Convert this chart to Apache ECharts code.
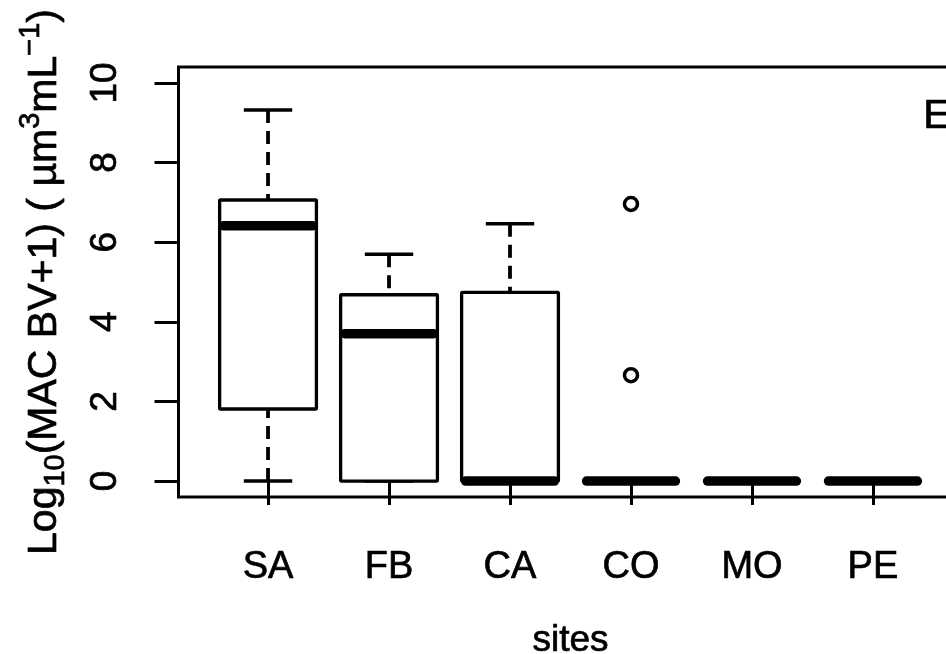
<!DOCTYPE html>
<html>
<head>
<meta charset="utf-8">
<script src="https://cdn.jsdelivr.net/npm/echarts@6/dist/echarts.min.js"></script>
<style>
html,body{margin:0;padding:0;background:#fff;}
#main{width:946px;height:654px;}
</style>
</head>
<body>
<div id="main"></div>
<script>
// ---- data ----
var sites = ['SA', 'FB', 'CA', 'CO', 'MO', 'PE'];
var lowerWhisker = [0, 0, 0, 0, 0, 0];
var q1 = [1.81, 0, 0, 0, 0, 0];
var median = [6.41, 3.70, 0, 0, 0, 0];
var q3 = [7.06, 4.68, 4.74, 0, 0, 0];
var upperWhisker = [9.32, 5.70, 6.46, 0, 0, 0];
var outlierSite = ['CO', 'CO'];
var outlierValue = [6.96, 2.66];
var yTicks = [0, 2, 4, 6, 8, 10];
var panelLabel = 'E';

var FONT = '"Liberation Sans", Arial, Helvetica, sans-serif';
var TB = 0.7; // slight text thickening to match the heavier reference glyphs

var boxData = sites.map(function (s, i) {
  return [i + 1, lowerWhisker[i], q1[i], median[i], q3[i], upperWhisker[i]];
});
var outData = outlierSite.map(function (s, i) {
  return [sites.indexOf(s) + 1, outlierValue[i]];
});

function renderBox(params, api) {
  var x = api.value(0);
  var lw = api.value(1), a = api.value(2), m = api.value(3), b = api.value(4), uw = api.value(5);
  var halfW = api.size([0.8, 0])[0] / 2;
  var capHalf = halfW / 2;
  var c = api.coord([x, 0])[0];
  var yA = api.coord([x, a])[1], yB = api.coord([x, b])[1], yM = api.coord([x, m])[1];
  var yLW = api.coord([x, lw])[1], yUW = api.coord([x, uw])[1];
  var children = [];
  var dash = [13, 8];
  if (uw > b) {
    children.push({ type: 'line', shape: { x1: c, y1: yUW, x2: c, y2: yB },
      style: { stroke: '#000', lineWidth: 3.8, lineDash: dash } });
  }
  if (lw < a) {
    children.push({ type: 'line', shape: { x1: c, y1: yLW, x2: c, y2: yA },
      style: { stroke: '#000', lineWidth: 3.8, lineDash: dash } });
  }
  children.push({ type: 'line', shape: { x1: c - capHalf, y1: yUW, x2: c + capHalf, y2: yUW },
    style: { stroke: '#000', lineWidth: 3.5 } });
  children.push({ type: 'line', shape: { x1: c - capHalf, y1: yLW, x2: c + capHalf, y2: yLW },
    style: { stroke: '#000', lineWidth: 3.5 } });
  children.push({ type: 'rect', shape: { x: c - halfW, y: yB, width: 2 * halfW, height: yA - yB, r: 1 },
    style: { fill: '#fff', stroke: '#000', lineWidth: 3.3 } });
  children.push({ type: 'line', shape: { x1: c - halfW + 4, y1: yM, x2: c + halfW - 4, y2: yM },
    style: { stroke: '#000', lineWidth: 9.5, lineCap: 'round' } });
  return { type: 'group', children: children };
}

var chart = echarts.init(document.getElementById('main'), null, { renderer: 'canvas' });
chart.setOption({
  animation: false,
  backgroundColor: '#fff',
  textStyle: { fontFamily: FONT },
  grid: {
    left: 178.5, top: 67, width: 784, height: 430,
    outerBoundsMode: 'none', containLabel: false,
    show: true, borderColor: '#000', borderWidth: 3, backgroundColor: 'transparent'
  },
  xAxis: {
    type: 'value', min: 0.26, max: 6.74,
    splitLine: { show: false },
    axisLine: { show: false },
    axisTick: { show: true, customValues: [1, 2, 3, 4, 5, 6], length: 24, inside: false,
      lineStyle: { color: '#000', width: 3 } },
    axisLabel: { show: true, customValues: [1, 2, 3, 4, 5, 6], margin: 52,
      formatter: function (v) { return sites[Math.round(v) - 1] || ''; },
      color: '#000', fontSize: 38, fontFamily: FONT, textBorderColor: '#000', textBorderWidth: TB },
    name: 'sites', nameLocation: 'middle', nameGap: 125,
    nameTextStyle: { color: '#000', fontSize: 37, fontFamily: FONT, textBorderColor: '#000', textBorderWidth: TB }
  },
  yAxis: {
    type: 'value', min: -0.4, max: 10.4,
    splitLine: { show: false },
    axisLine: { show: false },
    axisTick: { show: true, customValues: yTicks, length: 24, inside: false,
      lineStyle: { color: '#000', width: 3 } },
    axisLabel: { show: true, customValues: yTicks, rotate: 90, margin: 54,
      color: '#000', fontSize: 37, fontFamily: FONT, textBorderColor: '#000', textBorderWidth: TB },
    name: '{n|Log}{sub|10}{n|(MAC BV+1) ( µm}{sup|3}{n|mL}{sup|−1}{n|)}',
    nameLocation: 'middle', nameRotate: 90, nameGap: 106,
    nameTextStyle: {
      color: '#000', fontFamily: FONT,
      rich: {
        n: { fontSize: 41, color: '#000', fontFamily: FONT, lineHeight: 56, verticalAlign: 'middle',
             textBorderColor: '#000', textBorderWidth: TB },
        sub: { fontSize: 29, color: '#000', fontFamily: FONT, verticalAlign: 'bottom', padding: [0, 0, 2, 0],
             textBorderColor: '#000', textBorderWidth: TB },
        sup: { fontSize: 29, color: '#000', fontFamily: FONT, verticalAlign: 'top',
             textBorderColor: '#000', textBorderWidth: TB }
      }
    }
  },
  series: [
    {
      type: 'custom', renderItem: renderBox, data: boxData,
      encode: { x: 0, y: [1, 2, 3, 4, 5] }, z: 3, clip: false
    },
    {
      type: 'scatter', data: outData, symbol: 'circle', symbolSize: 13,
      itemStyle: { color: '#fff', borderColor: '#000', borderWidth: 3.5, opacity: 1 }, z: 4
    }
  ],
  graphic: [
    { type: 'text', left: 923, top: 96,
      style: { text: panelLabel, fontSize: 41, fontFamily: FONT, fill: '#000', stroke: '#000', lineWidth: TB } }
  ]
});
</script>
</body>
</html>
